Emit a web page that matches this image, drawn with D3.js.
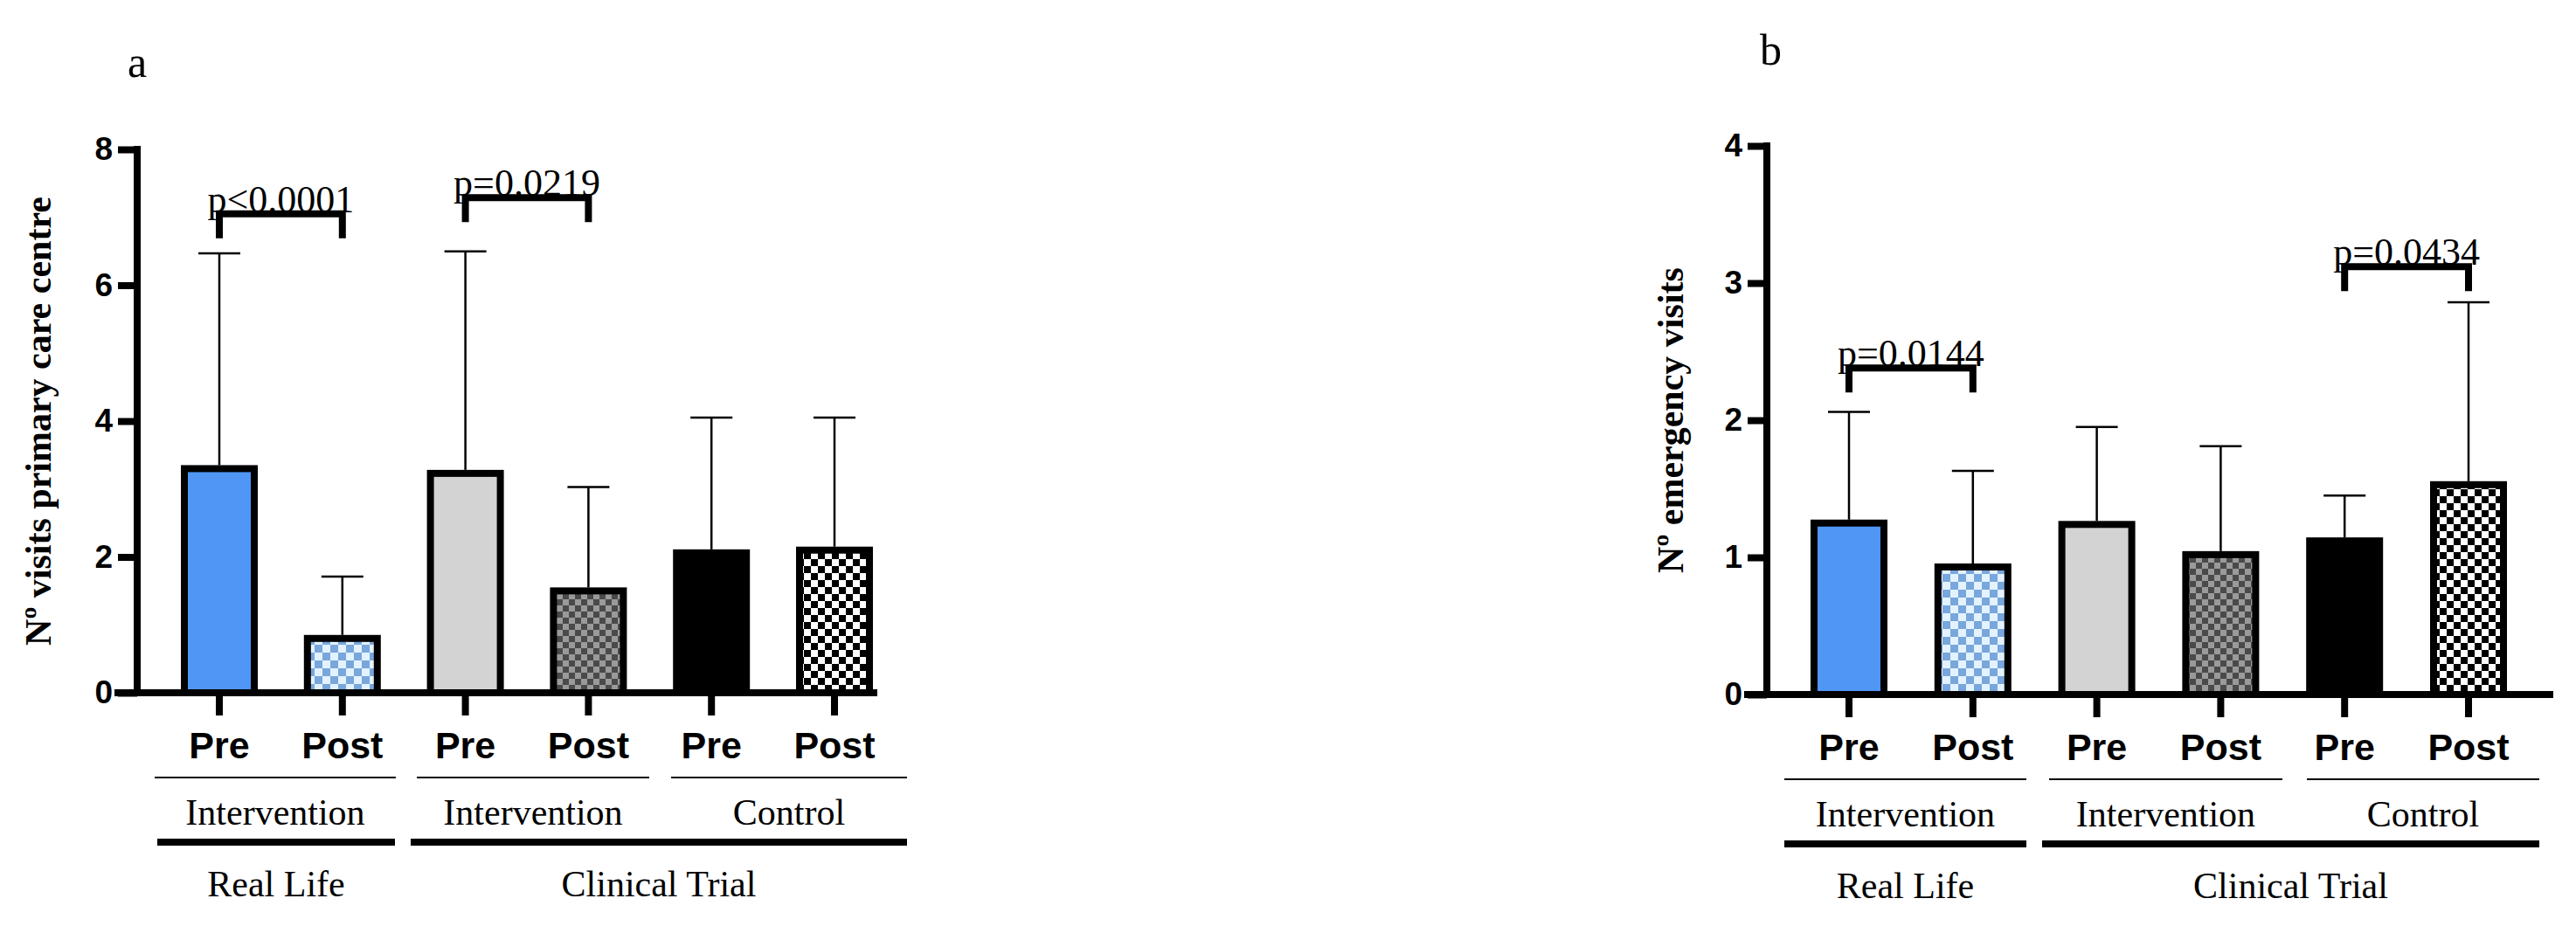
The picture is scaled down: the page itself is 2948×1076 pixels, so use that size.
<!DOCTYPE html>
<html><head><meta charset="utf-8">
<script src="https://cdn.jsdelivr.net/npm/d3@7"></script>
<style>body{margin:0;background:#fff}</style></head>
<body><svg id="c" width="2948" height="1076"></svg>
<script>
const categories = ["Pre","Post","Pre","Post","Pre","Post"];
const groupLabels = ["Intervention","Intervention","Control"];
const studyLabels = ["Real Life","Clinical Trial"];
const visitsMean = [3.3, 0.8, 3.23, 1.5, 2.06, 2.1];
const visitsErr  = [6.47, 1.71, 6.5, 3.03, 4.05, 4.05];
const emergMean  = [1.25, 0.93, 1.24, 1.02, 1.12, 1.53];
const emergErr   = [2.06, 1.63, 1.95, 1.81, 1.45, 2.86];
const ticksA = [0,2,4,6,8];
const ticksB = [0,1,2,3,4];
const pA = [{i:0,j:1,t:"p<0.0001",v:7.05},{i:2,j:3,t:"p=0.0219",v:7.29}];
const pB = [{i:0,j:1,t:"p=0.0144",v:2.38},{i:4,j:5,t:"p=0.0434",v:3.12}];

const svg = d3.select("#c");
const defs = svg.append("defs");
function checker(id, bg, fg, s){
  const p = defs.append("pattern").attr("id",id).attr("patternUnits","userSpaceOnUse")
    .attr("width",2*s).attr("height",2*s);
  p.append("rect").attr("width",2*s).attr("height",2*s).attr("fill",bg);
  p.append("rect").attr("width",s).attr("height",s).attr("fill",fg);
  p.append("rect").attr("x",s).attr("y",s).attr("width",s).attr("height",s).attr("fill",fg);
}
checker("pb","#e2f3ff","#79a6dc",9);
checker("pg","#4a4a4a","#9a9a9a",7);
checker("pk","#ffffff","#000000",8);
const fills = ["#4f96f5","url(#pb)","#d3d3d3","url(#pg)","#000","url(#pk)"];

function panel(o){
  const g = svg.append("g");
  const y = d3.scaleLinear().domain([0,o.max]).range([o.y0,o.y1]);
  const x = d3.scalePoint().domain(d3.range(6)).range([o.c0,o.c1]);
  const bw = 80;
  g.append("text").attr("x",o.lx).attr("y",o.ly).text(o.letter)
    .attr("font-family","Liberation Serif").attr("font-size",50);
  const ax = g.append("g").attr("transform",`translate(${o.ax},0)`)
    .call(d3.axisLeft(y).tickValues(o.ticks).tickSize(22).tickPadding(6).tickFormat(d3.format("d")));
  ax.select(".domain").attr("stroke-width",8).attr("d",`M0,${o.y1-4}V${o.y0}`);
  ax.selectAll(".tick line").attr("stroke-width",8);
  ax.selectAll("text").attr("font-family","Liberation Sans").attr("font-weight","bold").attr("font-size",37);
  g.append("text").attr("transform",`translate(${o.ylx},${(o.y0+o.y1)/2}) rotate(-90)`)
    .attr("text-anchor","middle").attr("font-family","Liberation Serif").attr("font-weight","bold")
    .attr("font-size",42).text(o.ylabel);
  g.selectAll(".bar").data(o.mean).join("rect")
    .attr("x",(d,i)=>x(i)-bw/2).attr("width",bw)
    .attr("y",d=>y(d)).attr("height",d=>y(0)-y(d))
    .attr("fill",(d,i)=>fills[i]).attr("stroke","#000").attr("stroke-width",8);
  o.err.forEach((e,i)=>{
    g.append("line").attr("x1",x(i)).attr("x2",x(i)).attr("y1",y(o.mean[i])-4).attr("y2",y(e)).attr("stroke","#000").attr("stroke-width",2.5);
    g.append("line").attr("x1",x(i)-24).attr("x2",x(i)+24).attr("y1",y(e)).attr("y2",y(e)).attr("stroke","#000").attr("stroke-width",2.5);
  });
  g.append("line").attr("x1",o.ax-26).attr("x2",o.xend).attr("y1",y(0)).attr("y2",y(0)).attr("stroke","#000").attr("stroke-width",8);
  categories.forEach((c,i)=>{
    g.append("line").attr("x1",x(i)).attr("x2",x(i)).attr("y1",y(0)).attr("y2",y(0)+26).attr("stroke","#000").attr("stroke-width",8);
    g.append("text").attr("x",x(i)).attr("y",y(0)+75).attr("text-anchor","middle")
      .attr("font-family","Liberation Sans").attr("font-weight","bold").attr("font-size",43).text(c);
  });
  o.thin.forEach((s,k)=>{
    g.append("line").attr("x1",s[0]).attr("x2",s[1]).attr("y1",o.y0+97).attr("y2",o.y0+97).attr("stroke","#000").attr("stroke-width",2);
    g.append("text").attr("x",(s[0]+s[1])/2).attr("y",o.y0+151).attr("text-anchor","middle")
      .attr("font-family","Liberation Serif").attr("font-size",42).text(groupLabels[k]);
  });
  o.thick.forEach((s,k)=>{
    g.append("line").attr("x1",s[0]).attr("x2",s[1]).attr("y1",o.y0+171).attr("y2",o.y0+171).attr("stroke","#000").attr("stroke-width",8);
    g.append("text").attr("x",(s[0]+s[1])/2).attr("y",o.y0+233).attr("text-anchor","middle")
      .attr("font-family","Liberation Serif").attr("font-size",42).text(studyLabels[k]);
  });
  o.p.forEach(p=>{
    const yy = y(p.v);
    g.append("path").attr("d",`M${x(p.i)},${yy+28}V${yy}H${x(p.j)}V${yy+28}`)
      .attr("fill","none").attr("stroke","#000").attr("stroke-width",8);
    g.append("text").attr("x",(x(p.i)+x(p.j))/2).attr("y",yy-2).attr("text-anchor","middle")
      .attr("font-family","Liberation Serif").attr("font-size",44).text(p.t);
  });
}

panel({letter:"a",lx:146,ly:88,max:8,ticks:ticksA,y0:793,y1:171,ax:157,c0:251,c1:955,xend:1004,
  ylx:58,ylabel:"Nº visits primary care centre",mean:visitsMean,err:visitsErr,p:pA,
  thin:[[177,453],[477,743],[768,1038]],thick:[[180,452],[470,1038]]});
panel({letter:"b",lx:2014,ly:74,max:4,ticks:ticksB,y0:795,y1:167,ax:2022,c0:2116,c1:2825,xend:2922,
  ylx:1926,ylabel:"Nº emergency visits",mean:emergMean,err:emergErr,p:pB,
  thin:[[2042,2319],[2345,2612],[2640,2906]],thick:[[2042,2319],[2337,2906]]});
</script></body></html>
